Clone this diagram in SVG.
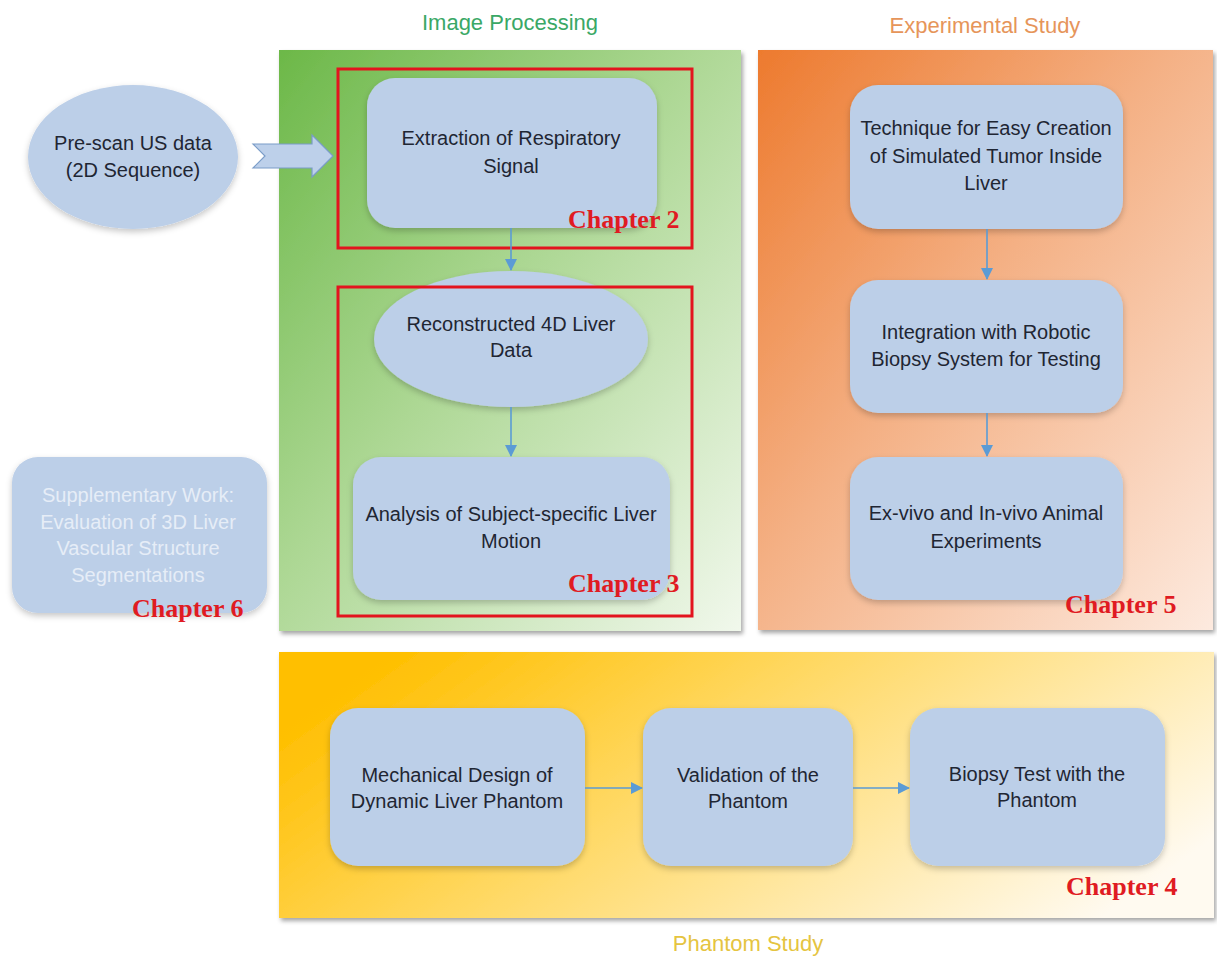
<svg xmlns="http://www.w3.org/2000/svg" width="1217" height="961" viewBox="0 0 1217 961">
<defs>
  <linearGradient id="gGreen" x1="0" y1="0" x2="1" y2="1">
    <stop offset="0" stop-color="#6cb848"/>
    <stop offset="0.45" stop-color="#acd793"/>
    <stop offset="1" stop-color="#f1f8ec"/>
  </linearGradient>
  <linearGradient id="gOrange" x1="0" y1="0" x2="1" y2="1">
    <stop offset="0" stop-color="#ed7a2e"/>
    <stop offset="0.45" stop-color="#f4b084"/>
    <stop offset="1" stop-color="#fdeadf"/>
  </linearGradient>
  <linearGradient id="gYellow" x1="0" y1="0.3" x2="1" y2="0.7">
    <stop offset="0" stop-color="#ffbf00"/>
    <stop offset="0.4" stop-color="#ffd862"/>
    <stop offset="1" stop-color="#fffaf0"/>
  </linearGradient>
  <filter id="panelShadow" x="-5%" y="-5%" width="110%" height="110%">
    <feDropShadow dx="2" dy="3" stdDeviation="2" flood-color="#000" flood-opacity="0.35"/>
  </filter>
  <filter id="nodeShadow" x="-10%" y="-10%" width="120%" height="125%">
    <feDropShadow dx="0" dy="3" stdDeviation="3" flood-color="#000" flood-opacity="0.22"/>
  </filter>
  <marker id="arr" markerUnits="userSpaceOnUse" markerWidth="12" markerHeight="12" viewBox="0 0 12 12" refX="11" refY="6" orient="auto">
    <path d="M0,0 L12,6 L0,12 Z" fill="#5b9bd5"/>
  </marker>
  <style>
    .node { fill:#bccfe8; filter:url(#nodeShadow); }
    .txt { font-family:"Liberation Sans", Arial, sans-serif; font-size:20px; fill:#1f2633; text-anchor:middle; }
    .ltxt { font-family:"Liberation Sans", Arial, sans-serif; font-size:20px; fill:#e6edf7; text-anchor:middle; }
    .chap { font-family:"Liberation Serif", "Times New Roman", serif; font-size:26px; font-weight:bold; fill:#e01b22; }
    .title { font-family:"Liberation Sans", Arial, sans-serif; font-size:22px; text-anchor:middle; }
    .redbox { fill:none; stroke:#e3141e; stroke-width:3; }
    .conn { stroke:#5b9bd5; stroke-width:1.6; fill:none; marker-end:url(#arr); }
  </style>
</defs>

<rect width="1217" height="961" fill="#ffffff"/>

<!-- Panels -->
<g id="panel-image-processing">
  <rect x="279" y="50" width="462" height="581" fill="url(#gGreen)" filter="url(#panelShadow)"/>
  <text class="title" x="510" y="30" fill="#3aa866">Image Processing</text>
</g>
<g id="panel-experimental-study">
  <rect x="758" y="50" width="455" height="580" fill="url(#gOrange)" filter="url(#panelShadow)"/>
  <text class="title" x="985" y="33" fill="#e6955a">Experimental Study</text>
</g>
<g id="panel-phantom-study">
  <rect x="279" y="652" width="935" height="266" fill="url(#gYellow)" filter="url(#panelShadow)"/>
  <text class="title" x="748" y="951" fill="#e5c440">Phantom Study</text>
</g>

<!-- Nodes -->
<g id="node-prescan">
  <ellipse cx="133" cy="157" rx="105" ry="72" class="node"/>
  <text class="txt" x="133" y="150">Pre-scan US data</text>
  <text class="txt" x="133" y="177">(2D Sequence)</text>
</g>
<g id="node-blockarrow">
  <path d="M253,144 L312,144 L312,135 L333,156 L312,177 L312,168 L253,168 L265,156 Z" fill="#bdd0ea" stroke="#7a9cc8" stroke-width="1.2"/>
</g>
<g id="node-extraction">
  <rect x="367" y="78" width="290" height="150" rx="28" class="node"/>
  <text class="txt" x="511" y="145">Extraction of Respiratory</text>
  <text class="txt" x="511" y="173">Signal</text>
</g>
<g id="node-reconstructed">
  <ellipse cx="511" cy="339" rx="137" ry="68" class="node"/>
  <text class="txt" x="511" y="331">Reconstructed 4D Liver</text>
  <text class="txt" x="511" y="357">Data</text>
</g>
<g id="node-analysis">
  <rect x="353" y="457" width="317" height="143" rx="28" class="node"/>
  <text class="txt" x="511" y="521">Analysis of Subject-specific Liver</text>
  <text class="txt" x="511" y="548">Motion</text>
</g>
<g id="chapter2">
  <rect x="338" y="69" width="354" height="179" class="redbox"/>
  <text class="chap" x="568" y="228">Chapter 2</text>
</g>
<g id="chapter3">
  <rect x="338" y="287" width="354" height="329" class="redbox"/>
  <text class="chap" x="568" y="592">Chapter 3</text>
</g>

<g id="node-technique">
  <rect x="850" y="85" width="273" height="144" rx="28" class="node"/>
  <text class="txt" x="986" y="135">Technique for Easy Creation</text>
  <text class="txt" x="986" y="163">of Simulated Tumor Inside</text>
  <text class="txt" x="986" y="190">Liver</text>
</g>
<g id="node-integration">
  <rect x="850" y="280" width="273" height="133" rx="28" class="node"/>
  <text class="txt" x="986" y="339">Integration with Robotic</text>
  <text class="txt" x="986" y="366">Biopsy System for Testing</text>
</g>
<g id="node-exvivo">
  <rect x="850" y="457" width="273" height="143" rx="28" class="node"/>
  <text class="txt" x="986" y="520">Ex-vivo and In-vivo Animal</text>
  <text class="txt" x="986" y="548">Experiments</text>
</g>
<g id="chapter5">
  <text class="chap" x="1065" y="613">Chapter 5</text>
</g>

<g id="node-supplementary">
  <rect x="12" y="457" width="255" height="156" rx="26" class="node"/>
  <text class="ltxt" x="138" y="502">Supplementary Work:</text>
  <text class="ltxt" x="138" y="529">Evaluation of 3D Liver</text>
  <text class="ltxt" x="138" y="555">Vascular Structure</text>
  <text class="ltxt" x="138" y="582">Segmentations</text>
  <text class="chap" x="132" y="617">Chapter 6</text>
</g>

<g id="node-mechanical">
  <rect x="330" y="708" width="255" height="158" rx="28" class="node"/>
  <text class="txt" x="457" y="782">Mechanical Design of</text>
  <text class="txt" x="457" y="808">Dynamic Liver Phantom</text>
</g>
<g id="node-validation">
  <rect x="643" y="708" width="210" height="158" rx="28" class="node"/>
  <text class="txt" x="748" y="782">Validation of the</text>
  <text class="txt" x="748" y="808">Phantom</text>
</g>
<g id="node-biopsy">
  <rect x="910" y="708" width="255" height="158" rx="28" class="node"/>
  <text class="txt" x="1037" y="781">Biopsy Test with the</text>
  <text class="txt" x="1037" y="807">Phantom</text>
</g>
<g id="chapter4">
  <text class="chap" x="1066" y="895">Chapter 4</text>
</g>

<!-- Connectors -->
<g id="connectors">
  <line class="conn" x1="511" y1="228" x2="511" y2="270"/>
  <line class="conn" x1="511" y1="407" x2="511" y2="456"/>
  <line class="conn" x1="987" y1="229" x2="987" y2="279"/>
  <line class="conn" x1="987" y1="413" x2="987" y2="456"/>
  <line class="conn" x1="585" y1="788" x2="642" y2="788"/>
  <line class="conn" x1="853" y1="788" x2="909" y2="788"/>
</g>
</svg>
